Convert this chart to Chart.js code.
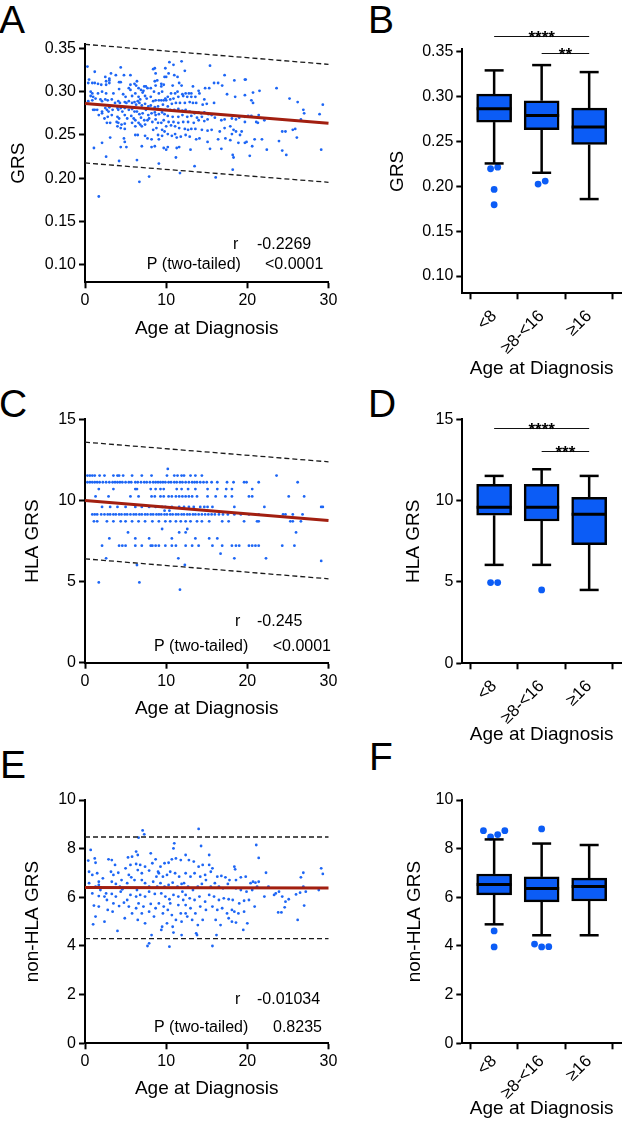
<!DOCTYPE html>
<html>
<head>
<meta charset="utf-8">
<title>GRS by age at diagnosis</title>
<script src="https://cdn.jsdelivr.net/npm/chart.js@4.4.1/dist/chart.umd.min.js"></script>
<style>
  body { margin: 0; background: #fff; }
  #page { position: relative; width: 625px; height: 1129px; overflow: hidden; font-family: "Liberation Sans", Arial, sans-serif; }
  canvas { position: absolute; }
  .tag { position: absolute; font-size: 39px; line-height: 39px; color: #000; }
</style>
</head>
<body>
<div id="page">
  <div class="tag" style="left:-1px;top:0px">A</div>
  <div class="tag" style="left:368px;top:0px">B</div>
  <div class="tag" style="left:-1px;top:384px">C</div>
  <div class="tag" style="left:368px;top:384px">D</div>
  <div class="tag" style="left:0px;top:745px">E</div>
  <div class="tag" style="left:369px;top:737px">F</div>
  <canvas id="chartA"></canvas>
  <canvas id="chartB"></canvas>
  <canvas id="chartC"></canvas>
  <canvas id="chartD"></canvas>
  <canvas id="chartE"></canvas>
  <canvas id="chartF"></canvas>
</div>
<script>
// ---------- shared axis values ----------
const ageTicks = [0, 10, 20, 30];
const grsTicks = [0.10, 0.15, 0.20, 0.25, 0.30, 0.35];
const hlaTicks = [0, 5, 10, 15];
const nonHlaTicks = [0, 2, 4, 6, 8, 10];
const groups = ['<8', '≥8-<16', '≥16'];

// ---------- A: GRS vs age (age, GRS) ----------
const grsPoints = [
  [0.3,0.329],[1.2,0.323],[4.4,0.328],[8.4,0.326],[8.6,0.327],[8.7,0.321],[9.8,0.317],[9.7,0.308],
  [2.5,0.317],[3.0,0.315],[3.2,0.321],[3.8,0.319],[4.8,0.319],[5.6,0.319],[6.4,0.312],[6.1,0.309],
  [6.3,0.307],[4.2,0.311],[4.4,0.311],[5.6,0.308],[5.4,0.304],[5.6,0.302],[0.5,0.314],[0.4,0.310],
  [0.9,0.310],[1.2,0.310],[1.6,0.309],[2.0,0.308],[2.6,0.312],[2.6,0.308],[3.0,0.313],[3.0,0.310],
  [4.2,0.303],[8.6,0.312],[8.9,0.313],[8.7,0.307],[9.4,0.309],[9.4,0.306],[7.3,0.306],[7.5,0.306],
  [7.7,0.304],[6.6,0.304],[6.9,0.302],[7.2,0.301],[8.1,0.304],[8.5,0.300],[9.1,0.298],[9.5,0.300],
  [0.7,0.300],[0.9,0.298],[1.0,0.294],[0.7,0.295],[1.6,0.298],[2.1,0.300],[2.6,0.298],[3.5,0.298],
  [4.7,0.297],[5.0,0.294],[5.8,0.295],[6.2,0.298],[7.1,0.299],[7.4,0.295],[7.6,0.292],[6.6,0.294],
  [6.8,0.291],[8.1,0.294],[8.4,0.289],[8.7,0.290],[9.1,0.290],[9.4,0.290],[9.7,0.290],[9.9,0.292],
  [0.4,0.289],[0.9,0.290],[1.3,0.292],[1.9,0.291],[2.1,0.289],[2.5,0.291],[2.8,0.290],[3.3,0.291],
  [3.7,0.287],[4.1,0.289],[4.3,0.287],[4.9,0.288],[5.1,0.287],[5.4,0.289],[5.8,0.287],[6.1,0.288],
  [6.3,0.285],[6.5,0.289],[6.7,0.287],[7.0,0.284],[7.4,0.286],[7.8,0.283],[8.1,0.284],[8.6,0.282],
  [9.0,0.283],[9.3,0.279],[9.6,0.285],[1.2,0.279],[1.0,0.279],[1.5,0.279],[2.1,0.277],[2.1,0.275],
  [2.5,0.281],[2.7,0.279],[2.9,0.277],[3.0,0.282],[3.4,0.279],[4.0,0.281],[4.1,0.279],[4.4,0.281],
  [4.6,0.277],[4.9,0.281],[5.4,0.279],[5.8,0.280],[6.1,0.277],[6.4,0.277],[6.7,0.274],[7.1,0.275],
  [7.5,0.279],[7.8,0.273],[8.2,0.275],[8.6,0.276],[8.7,0.273],[9.1,0.274],[9.5,0.276],[9.8,0.274],
  [1.7,0.273],[2.4,0.269],[2.8,0.271],[3.3,0.273],[4.0,0.271],[4.2,0.269],[4.9,0.273],[5.2,0.269],
  [5.7,0.272],[6.0,0.269],[6.2,0.267],[6.9,0.270],[7.3,0.267],[7.7,0.267],[7.9,0.269],[8.3,0.265],
  [8.7,0.268],[9.0,0.264],[9.4,0.264],[9.7,0.267],[2.7,0.264],[3.1,0.264],[3.9,0.265],[4.1,0.264],
  [4.5,0.262],[4.9,0.263],[5.8,0.264],[6.6,0.264],[6.8,0.262],[7.4,0.262],[4.0,0.260],[4.4,0.258],
  [4.9,0.257],[6.2,0.260],[7.0,0.260],[8.4,0.256],[8.8,0.258],[9.5,0.256],[9.8,0.254],[6.2,0.250],
  [6.5,0.250],[7.4,0.249],[7.7,0.246],[8.2,0.245],[9.0,0.250],[9.1,0.245],[9.5,0.249],[4.8,0.246],
  [4.9,0.242],[3.1,0.247],[2.1,0.241],[1.1,0.235],[4.4,0.236],[5.1,0.236],[7.0,0.237],[8.2,0.236],
  [8.6,0.237],[9.7,0.235],[10.0,0.233],[2.6,0.225],[4.2,0.220],[6.4,0.221],[9.1,0.217],[7.9,0.202],
  [6.7,0.196],[1.7,0.179],
  [10.4,0.334],[10.9,0.331],[11.9,0.335],[15.4,0.330],[9.9,0.327],[10.3,0.321],[11.0,0.319],[11.4,0.317],
  [12.3,0.324],[11.6,0.310],[11.9,0.307],[10.8,0.307],[10.0,0.317],[17.2,0.319],[18.4,0.313],[19.7,0.314],
  [16.9,0.307],[15.9,0.310],[16.4,0.310],[15.3,0.304],[14.8,0.304],[14.0,0.301],[13.3,0.306],[12.8,0.298],
  [13.1,0.298],[12.4,0.298],[12.0,0.297],[11.4,0.300],[11.1,0.298],[10.6,0.298],[10.2,0.294],[10.0,0.290],
  [10.5,0.291],[10.9,0.292],[11.5,0.294],[12.1,0.295],[12.6,0.294],[13.1,0.294],[13.6,0.294],[14.1,0.298],
  [17.5,0.297],[18.5,0.294],[19.7,0.296],[15.9,0.287],[14.7,0.291],[15.0,0.286],[14.5,0.285],[13.7,0.287],
  [13.3,0.287],[12.9,0.288],[12.3,0.287],[11.7,0.287],[11.2,0.287],[10.7,0.286],[10.2,0.283],[9.9,0.279],
  [10.5,0.279],[11.0,0.279],[11.5,0.280],[12.0,0.278],[12.4,0.279],[12.9,0.277],[13.5,0.275],[14.0,0.276],
  [14.3,0.275],[14.7,0.276],[15.2,0.274],[15.6,0.273],[16.0,0.270],[16.8,0.267],[17.2,0.268],[18.1,0.269],
  [18.6,0.268],[19.0,0.270],[19.7,0.271],[10.2,0.272],[10.8,0.271],[11.5,0.271],[12.0,0.273],[12.6,0.271],
  [13.1,0.272],[13.8,0.270],[14.4,0.271],[15.1,0.268],[14.7,0.266],[14.0,0.267],[13.4,0.264],[12.7,0.265],
  [12.1,0.265],[11.5,0.264],[10.9,0.265],[10.3,0.265],[10.0,0.260],[10.6,0.261],[11.1,0.260],[11.6,0.258],
  [12.3,0.257],[12.7,0.256],[13.1,0.257],[13.6,0.257],[14.4,0.256],[15.1,0.255],[15.6,0.256],[16.6,0.254],
  [17.2,0.258],[17.9,0.260],[18.3,0.256],[18.1,0.251],[18.6,0.254],[19.3,0.254],[10.2,0.251],[10.7,0.249],
  [11.1,0.251],[11.3,0.247],[11.8,0.248],[12.4,0.250],[12.9,0.248],[13.7,0.245],[14.1,0.246],[15.1,0.242],
  [16.4,0.245],[17.3,0.246],[17.9,0.244],[19.1,0.250],[19.7,0.241],[10.2,0.236],[11.3,0.235],[11.6,0.236],
  [13.0,0.233],[15.4,0.234],[16.8,0.234],[18.2,0.227],[18.3,0.224],[18.9,0.241],[11.2,0.224],[13.5,0.214],
  [11.7,0.206],[18.2,0.210],[16.1,0.201],
  [19.8,0.314],[20.7,0.299],[21.5,0.301],[23.6,0.304],[20.5,0.290],[20.7,0.287],[25.2,0.292],[26.2,0.288],
  [26.9,0.279],[27.0,0.275],[29.3,0.285],[28.9,0.274],[20.1,0.272],[20.5,0.272],[21.4,0.273],[21.1,0.265],
  [21.3,0.264],[19.7,0.265],[22.1,0.267],[26.6,0.268],[24.3,0.254],[24.7,0.254],[25.6,0.256],[25.9,0.257],
  [26.1,0.247],[19.9,0.242],[20.9,0.245],[21.8,0.245],[23.9,0.243],[20.6,0.237],[22.4,0.233],[24.3,0.232],
  [29.1,0.233],[24.8,0.227],[20.3,0.226]
];
const grsFit = [0.2862, 0.2635];        // regression at age 0 and 30
const grsBandHigh = [0.3546, 0.3315];   // 95% prediction band
const grsBandLow = [0.2177, 0.1954];
const grsStats = ['-0.2269', '<0.0001'];

// ---------- B: GRS box plots ----------
const grsLow = [0.2255, 0.2151, 0.1858];
const grsQ1 = [0.2716, 0.2631, 0.2467];
const grsMedian = [0.2865, 0.2790, 0.2660];
const grsQ3 = [0.3028, 0.2954, 0.2872];
const grsHigh = [0.3292, 0.3351, 0.3273];
const grsOutliers = [[0.2196, 0.2214, 0.1966, 0.1795], [0.2025, 0.2059], []];
const grsSig = [['****', 0, 2, 0.3678], ['**', 1, 2, 0.3482]];

// ---------- C: HLA GRS vs age (discrete score levels) ----------
const hlaLevels = [11.94, 11.53, 11.12, 10.70, 10.25, 9.60, 9.37, 9.14, 8.71, 8.24, 8.03, 7.66, 7.21, 6.72, 6.43, 6.27, 6.02, 4.95, 4.50];
const hlaAgesByLevel = [
  [10.2],
  [0.3,0.6,0.9,1.2,1.8,2.4,3.5,4.0,4.2,4.7,5.8,7.0,8.2,10.1,11.0,11.4,11.9,12.2,13.0,13.6,14.4,23.6],
  [0.3,0.6,0.9,1.2,1.5,1.8,2.2,2.6,3.0,3.4,3.7,4.0,4.3,4.6,5.0,5.4,5.7,6.2,6.5,6.9,7.3,7.6,8.0,8.4,8.7,
   9.0,9.3,9.6,9.9,10.3,10.6,11.0,11.3,11.7,12.0,12.4,12.8,13.2,13.5,13.8,14.2,14.6,15.0,15.6,16.3,17.5,
   18.3,19.6,19.9,21.4,26.2],
  [1.7,3.5,6.2,6.4,8.1,8.7,9.3,9.7,11.3,11.9,12.7,13.6,15.1,16.3,17.4,18.1,20.6],
  [1.3,2.9,5.6,6.6,8.2,8.6,9.3,9.7,10.3,10.7,11.2,11.6,12.0,12.4,12.8,13.2,13.8,15.1,16.1,17.3,18.1,20.2,
   20.6,25.1,27.0],
  [2.1,3.1,4.0,5.0,6.2,7.0,7.9,8.7,9.5,9.9,10.7,11.6,12.2,12.8,13.4,14.2,14.7,15.1,15.7,18.4,22.1,29.1,29.3],
  [9.8,10.4],
  [0.9,1.2,1.5,2.0,2.4,2.8,3.1,3.5,3.8,4.2,4.5,4.9,5.2,5.6,6.0,6.3,6.7,7.0,7.4,7.7,8.1,8.4,8.8,9.1,9.4,
   9.8,10.1,10.5,10.8,11.2,11.5,11.9,12.2,12.6,12.9,13.3,13.6,14.0,14.4,14.8,15.2,15.6,16.0,16.5,17.0,
   17.6,18.4,19.2,20.2,21.4,24.4,24.7,25.6,26.8],
  [1.1,1.5,2.7,3.5,4.4,5.0,5.8,6.6,7.4,8.3,9.1,9.9,10.5,11.2,11.8,12.4,13.0,13.8,14.4,15.3,16.9,17.7,19.6,
   21.2,21.4,25.3,25.6,26.6],
  [9.5,12.6],
  [5.3,11.6,12.4,26.0],
  [3.0,6.2,7.9,10.7,13.6,15.3,16.3],
  [2.1,4.2,4.6,5.0,6.2,7.0,8.1,8.3,8.7,9.1,9.9,10.7,11.2,12.4,13.2,14.0,15.7,16.9,18.1,18.6,19.0,20.2,20.6,
   21.0,21.4,24.3,25.8],
  [16.7],
  [2.6,11.5,18.4,22.3],
  [29.1],
  [6.4,12.3],
  [1.7,6.7],
  [11.7]
];
const hlaFit = [10.0, 8.77];
const hlaBandHigh = [13.59, 12.38];
const hlaBandLow = [6.40, 5.17];
const hlaStats = ['-0.245', '<0.0001'];

// ---------- D: HLA GRS box plots ----------
const hlaLow = [6.05, 6.05, 4.51];
const hlaQ1 = [9.10, 8.75, 7.30];
const hlaMedian = [9.59, 9.59, 9.16];
const hlaQ3 = [11.0, 11.0, 10.2];
const hlaHigh = [11.52, 11.93, 11.52];
const hlaOutliers = [[4.96, 4.96], [4.51], []];
const hlaSig = [['****', 0, 2, 14.48], ['***', 1, 2, 13.07]];

// ---------- E: non-HLA GRS vs age ----------
const nonHlaPoints = [
  [7.1,8.75],[7.3,8.59],[6.6,8.45],[14.0,8.81],[11.0,8.22],[10.9,8.01],[14.3,8.11],[0.7,7.95],[21.1,8.15],[21.4,7.62],
  [0.4,7.51],[1.2,7.60],[1.3,7.42],[0.5,7.05],[0.9,6.92],[1.5,6.99],[1.7,6.64],[0.5,6.58],[1.3,6.44],[1.9,6.30],
  [0.9,6.16],[1.7,6.05],[2.4,6.03],[1.1,5.66],[1.7,5.62],[1.3,5.21],[2.4,5.00],[1.0,4.89],[1.7,6.51],[2.2,6.78],
  [2.6,6.16],[2.7,5.89],[2.8,5.48],
  [2.9,7.56],[3.3,7.53],[3.7,7.33],[3.2,7.05],[3.5,6.92],[4.1,7.01],[3.3,6.64],[3.8,6.55],[4.3,6.44],[3.3,6.14],
  [3.8,6.03],[4.4,6.23],[3.5,5.75],[4.2,5.64],[4.8,5.78],[3.4,5.41],[4.9,5.14],[4.0,4.62],[4.6,6.33],[5.2,6.58],
  [5.4,6.92],[5.0,7.19],[5.6,7.33],[5.8,7.67],[5.3,7.64],[5.7,6.82],[5.6,6.10],[5.4,5.62],[5.8,5.34],[5.2,5.89],
  [4.5,6.71],
  [6.3,7.37],[6.8,7.33],[6.5,7.12],[7.0,6.99],[7.4,7.26],[7.9,7.10],[8.3,7.40],[8.7,7.56],[8.1,7.81],[6.3,7.88],
  [6.5,7.74],[7.0,6.71],[7.4,6.58],[7.9,6.44],[8.4,6.64],[8.8,6.85],[6.4,6.30],[6.8,6.10],[7.4,6.03],[7.9,6.23],
  [8.6,6.14],[6.6,5.75],[7.2,5.62],[8.1,5.73],[8.7,5.55],[7.0,5.34],[7.9,5.41],[8.5,5.21],[7.4,4.93],[6.3,5.55],
  [6.5,5.07],[8.2,4.45],[7.7,4.00],[7.9,4.11],[6.3,6.03],[6.1,6.71],[8.9,6.44],[9.0,7.05],
  [9.3,7.26],[9.8,7.40],[10.3,7.42],[10.7,7.56],[11.2,7.60],[11.8,7.53],[9.1,6.99],[9.6,6.85],[10.1,6.92],[10.5,7.05],
  [11.1,6.99],[11.6,6.85],[9.3,6.58],[9.8,6.44],[10.3,6.51],[10.8,6.60],[11.4,6.44],[11.9,6.55],[9.4,6.16],[9.9,6.03],
  [10.4,5.92],[10.9,6.10],[11.5,6.03],[12.0,6.23],[9.5,4.79],[9.4,4.66],[9.7,5.62],[10.2,5.48],[10.7,5.27],[11.2,5.07],
  [11.8,5.34],[10.1,4.93],[10.8,4.79],[11.9,5.00],[10.9,4.55],[11.9,4.45],[10.4,3.97],[9.1,5.75],[9.6,5.34],[11.5,5.68],
  [10.5,5.75],
  [12.4,7.74],[12.8,7.53],[13.4,7.47],[14.0,7.26],[14.5,7.33],[12.4,6.99],[13.0,6.85],[13.5,6.99],[14.2,6.85],[14.8,6.92],
  [12.2,6.58],[12.7,6.44],[13.3,6.30],[13.9,6.44],[14.4,6.55],[14.9,6.71],[12.4,6.10],[12.9,5.96],[13.5,5.89],[14.1,6.03],
  [14.8,5.82],[12.4,5.68],[13.0,5.55],[13.6,5.34],[14.2,5.62],[14.9,5.48],[12.6,5.21],[13.2,5.07],[13.9,4.86],[14.5,5.07],
  [13.7,4.52],[13.8,4.45],[12.4,5.34],[12.1,5.89],
  [15.3,7.33],[15.7,7.19],[16.3,6.85],[16.8,6.88],[17.3,6.82],[17.8,6.71],[15.5,6.44],[16.0,6.58],[16.5,6.44],[17.0,6.37],
  [17.6,6.55],[15.3,6.10],[15.9,6.03],[16.5,5.89],[17.1,5.96],[17.7,5.92],[15.7,5.62],[16.3,5.48],[16.9,5.55],[17.5,5.34],
  [18.1,5.48],[16.1,5.07],[16.7,4.86],[17.7,5.14],[15.7,4.00],[16.2,4.45],[15.5,7.05],[15.3,7.74],
  [18.4,7.26],[18.5,7.15],[18.6,6.71],[19.2,6.82],[19.8,6.85],[20.4,6.58],[20.7,6.64],[21.0,6.60],[21.4,6.64],[18.6,6.37],
  [19.2,6.30],[19.9,6.23],[20.6,6.30],[21.2,6.44],[18.2,5.89],[19.0,5.75],[19.6,5.86],[20.2,5.89],[20.9,5.62],[18.4,5.41],
  [18.9,5.34],[19.6,5.41],[18.1,5.00],[18.6,4.96],[20.0,4.93],[19.5,4.66],
  [22.1,6.03],[22.6,6.44],[23.3,6.10],[23.9,6.23],[24.3,6.03],[24.7,5.82],[25.1,5.92],[26.0,6.12],[26.5,6.19],[26.9,6.44],
  [27.2,6.23],[22.3,7.01],[24.2,5.38],[24.6,5.59],[23.8,5.38],[26.2,5.07],[27.0,5.66],[26.6,6.82],[26.9,7.01],[29.1,7.19],
  [29.3,6.96],[28.8,6.30],[23.5,6.16]
];
const nonHlaFit = [6.40, 6.38];
const nonHlaBandHigh = [8.48, 8.48];
const nonHlaBandLow = [4.30, 4.30];
const nonHlaStats = ['-0.01034', '0.8235'];

// ---------- F: non-HLA GRS box plots ----------
const nonHlaLow = [4.89, 4.44, 4.44];
const nonHlaQ1 = [6.10, 5.81, 5.85];
const nonHlaMedian = [6.53, 6.36, 6.44];
const nonHlaQ3 = [6.96, 6.84, 6.79];
const nonHlaHigh = [8.38, 8.21, 8.15];
const nonHlaOutliers = [[8.74, 8.48, 8.58, 8.74, 4.62, 3.96], [8.81, 4.08, 3.96, 3.97], []];

// ---------- styling ----------
Chart.defaults.font.family = '"Liberation Sans", Arial, sans-serif';
Chart.defaults.color = '#000';

const DOT_BLUE = '#1d66f5';
const BOX_BLUE = '#0b5cf6';
const FIT_RED = '#a21f10';
const TITLE_FONT = { size: 19, lineHeight: 1.2 };
const TICK_FONT = { size: 16 };
const GROUP_FONT = { size: 17 };
const HALF_TITLE = 19 * 1.2 / 2;

function placeCanvas(id, f) {
  const c = document.getElementById(id);
  c.width = f.w;
  c.height = f.h;
  c.style.left = f.x + 'px';
  c.style.top = f.y + 'px';
  c.style.width = f.w + 'px';
  c.style.height = f.h + 'px';
  return c;
}

const axisGrid = { drawOnChartArea: false, tickLength: 6, tickWidth: 2, tickColor: '#000' };
const axisBorder = { width: 2, color: '#000' };

function valueAxis(f, min, max, ticks, title, digits) {
  return {
    type: 'linear', position: 'left', min: min, max: max,
    afterBuildTicks: s => { s.ticks = ticks.map(v => ({ value: v })); },
    afterFit: s => { s.width = f.plot.l - f.x; },
    ticks: { font: TICK_FONT, color: '#000', padding: 3, autoSkip: false, callback: v => v.toFixed(digits) },
    grid: axisGrid,
    border: axisBorder,
    title: { display: true, text: title, font: TITLE_FONT, color: '#000',
             padding: { top: f.yTitle - f.x - HALF_TITLE, bottom: 0 } }
  };
}

function bottomAxis(f, extra) {
  return Object.assign({
    type: 'linear', position: 'bottom',
    afterFit: s => { s.height = f.y + f.h - f.plot.b; },
    grid: axisGrid,
    border: axisBorder,
    title: { display: true, text: 'Age at Diagnosis', font: TITLE_FONT, color: '#000',
             padding: { top: 0, bottom: f.y + f.h - f.xTitle - HALF_TITLE } }
  }, extra);
}

function layoutFor(f) {
  return { padding: { left: 0, top: f.plot.t - f.y, right: f.x + f.w - f.plot.r, bottom: 0 } };
}

// r and P value text inside the scatter panels
const statsPlugin = {
  id: 'corrStats',
  afterDraw(chart, args, o) {
    const { ctx, chartArea: a } = chart;
    ctx.save();
    ctx.font = '16px "Liberation Sans", Arial, sans-serif';
    ctx.fillStyle = '#000';
    ctx.textBaseline = 'middle';
    ctx.textAlign = 'left';
    ctx.fillText('r', a.left + o.rX, a.bottom + o.rY);
    ctx.fillText(o.values[0], a.left + o.rValX, a.bottom + o.rY);
    ctx.fillText('P (two-tailed)', a.left + o.pX, a.bottom + o.pY);
    ctx.fillText(o.values[1], a.left + o.pValX, a.bottom + o.pY);
    ctx.restore();
  }
};

// whiskers, caps and medians of the box plots
const whiskerPlugin = {
  id: 'whiskers',
  afterDatasetsDraw(chart, args, o) {
    const { ctx, scales: { x, y } } = chart;
    ctx.save();
    ctx.strokeStyle = '#000';
    ctx.lineWidth = 2.5;
    ctx.lineCap = 'butt';
    const seg = (x1, y1, x2, y2) => { ctx.beginPath(); ctx.moveTo(x1, y1); ctx.lineTo(x2, y2); ctx.stroke(); };
    o.low.forEach((lo, i) => {
      const px = x.getPixelForValue(i);
      const yLo = y.getPixelForValue(lo), yHi = y.getPixelForValue(o.high[i]);
      seg(px, yLo, px, y.getPixelForValue(o.q1[i]));
      seg(px, y.getPixelForValue(o.q3[i]), px, yHi);
      seg(px - 9.5, yLo, px + 9.5, yLo);
      seg(px - 9.5, yHi, px + 9.5, yHi);
      const ym = y.getPixelForValue(o.median[i]);
      ctx.lineWidth = 3;
      seg(px - 17.5, ym, px + 17.5, ym);
      ctx.lineWidth = 2.5;
    });
    ctx.restore();
  }
};

// significance brackets above the boxes
const sigPlugin = {
  id: 'sigBars',
  afterDraw(chart, args, o) {
    if (!o.bars) return;
    const { ctx, scales: { x, y } } = chart;
    ctx.save();
    o.bars.forEach(([label, from, to, level]) => {
      const x1 = x.getPixelForValue(from), x2 = x.getPixelForValue(to);
      const py = Math.round(y.getPixelForValue(level)) + 0.5;
      ctx.strokeStyle = '#111';
      ctx.lineWidth = 1;
      ctx.beginPath(); ctx.moveTo(x1, py); ctx.lineTo(x2, py); ctx.stroke();
      ctx.font = 'bold 17px "Liberation Sans", Arial, sans-serif';
      ctx.fillStyle = '#000';
      ctx.textAlign = 'center';
      ctx.textBaseline = 'alphabetic';
      ctx.fillText(label, (x1 + x2) / 2, py + 6);
    });
    ctx.restore();
  }
};

function lineSet(vals, color, width, dash) {
  return {
    type: 'scatter', showLine: true, data: [{ x: 0, y: vals[0] }, { x: 30, y: vals[1] }],
    borderColor: color, borderWidth: width, borderDash: dash, pointRadius: 0, clip: false
  };
}

function scatterPanel(id, f, pts, fit, hi, lo, yMin, yMax, yTicks, yTitle, digits, stats, statPos) {
  placeCanvas(id, f);
  new Chart(document.getElementById(id), {
    type: 'scatter',
    data: {
      datasets: [
        lineSet(fit, FIT_RED, 3, []),
        lineSet(hi, '#1a1a1a', 1.3, [5, 3]),
        lineSet(lo, '#1a1a1a', 1.3, [5, 3]),
        { data: pts.map(p => ({ x: p[0], y: p[1] })), pointRadius: 1.4, pointBackgroundColor: DOT_BLUE,
          pointBorderWidth: 0, showLine: false }
      ]
    },
    options: {
      responsive: false, animation: false, devicePixelRatio: 1,
      layout: layoutFor(f),
      scales: {
        x: bottomAxis(f, {
          min: 0, max: 30,
          afterBuildTicks: s => { s.ticks = ageTicks.map(v => ({ value: v })); },
          ticks: { font: TICK_FONT, color: '#000', padding: 3, maxRotation: 0, autoSkip: false }
        }),
        y: valueAxis(f, yMin, yMax, yTicks, yTitle, digits)
      },
      plugins: {
        legend: { display: false }, tooltip: { enabled: false },
        corrStats: Object.assign({ values: stats }, statPos)
      }
    },
    plugins: [statsPlugin]
  });
}

function spreadOutliers(lists, range) {
  const out = [];
  lists.forEach((vals, g) => {
    let cluster = [];
    const flush = () => {
      cluster.forEach((v, k) => out.push({ x: g + (k - (cluster.length - 1) / 2) * 0.15, y: v }));
      cluster = [];
    };
    vals.forEach(v => {
      if (cluster.length && Math.abs(v - cluster[cluster.length - 1]) > range * 0.03) flush();
      cluster.push(v);
    });
    flush();
  });
  return out;
}

function boxPanel(id, f, low, q1, med, q3, high, outliers, sig, yMin, yMax, yTicks, yTitle, digits) {
  placeCanvas(id, f);
  new Chart(document.getElementById(id), {
    type: 'scatter',
    data: {
      datasets: [
        { type: 'scatter', data: spreadOutliers(outliers, yMax - yMin), pointRadius: 3.4,
          pointBackgroundColor: BOX_BLUE, pointBorderWidth: 0 },
        { type: 'bar', data: groups.map((g, i) => ({ x: i, y: [q1[i], q3[i]] })),
          backgroundColor: BOX_BLUE, borderColor: '#000', borderWidth: 2.5, borderSkipped: false,
          barThickness: 35 }
      ]
    },
    options: {
      responsive: false, animation: false, devicePixelRatio: 1,
      layout: layoutFor(f),
      scales: {
        x: bottomAxis(f, {
          min: -0.67, max: 2.67, offset: false,
          afterBuildTicks: s => { s.ticks = groups.map((g, i) => ({ value: i })); },
          ticks: { font: GROUP_FONT, color: '#000', padding: f.labelPad, autoSkip: false, minRotation: 45, maxRotation: 45,
                   callback: v => groups[v] }
        }),
        y: valueAxis(f, yMin, yMax, yTicks, yTitle, digits)
      },
      plugins: {
        legend: { display: false }, tooltip: { enabled: false },
        whiskers: { low: low, q1: q1, median: med, q3: q3, high: high },
        sigBars: { bars: sig }
      }
    },
    plugins: [whiskerPlugin, sigPlugin]
  });
}

// ---------- panel frames (canvas box and plot area, page pixels) ----------
const frameA = { x: 0, y: 0, w: 345, h: 345, plot: { l: 85, r: 328.5, t: 44, b: 282.3 }, yTitle: 18.3, xTitle: 328.7 };
const frameB = { x: 375, y: 0, w: 250, h: 382, plot: { l: 462.3, r: 625, t: 49.3, b: 293.3 }, yTitle: 397.5, xTitle: 368.7, labelPad: 7 };
const frameC = { x: 0, y: 380, w: 345, h: 345, plot: { l: 85, r: 328.5, t: 419.3, b: 662.7 }, yTitle: 32.5, xTitle: 708.7 };
const frameD = { x: 375, y: 380, w: 250, h: 372, plot: { l: 462.3, r: 625, t: 419.3, b: 663.3 }, yTitle: 414, xTitle: 734.4, labelPad: 7 };
const frameE = { x: 0, y: 760, w: 345, h: 345, plot: { l: 85, r: 328.5, t: 800, b: 1043.3 }, yTitle: 33, xTitle: 1088.7 };
const frameF = { x: 375, y: 760, w: 250, h: 369, plot: { l: 462.3, r: 625, t: 800, b: 1043.3 }, yTitle: 415, xTitle: 1108.7, labelPad: 2 };

const hlaPoints = [];
hlaLevels.forEach((lvl, i) => hlaAgesByLevel[i].forEach(a => hlaPoints.push([a, lvl])));

scatterPanel('chartA', frameA, grsPoints, grsFit, grsBandHigh, grsBandLow, 0.08, 0.355, grsTicks, 'GRS', 2, grsStats,
  { rX: 148, rValX: 172, rY: -37.3, pX: 61.7, pValX: 180, pY: -17.3 });
boxPanel('chartB', frameB, grsLow, grsQ1, grsMedian, grsQ3, grsHigh, grsOutliers, grsSig, 0.0808, 0.3527, grsTicks, 'GRS', 2);

scatterPanel('chartC', frameC, hlaPoints, hlaFit, hlaBandHigh, hlaBandLow, 0, 15, hlaTicks, 'HLA GRS', 0, hlaStats,
  { rX: 150, rValX: 172, rY: -41, pX: 69, pValX: 187.7, pY: -16 });
boxPanel('chartD', frameD, hlaLow, hlaQ1, hlaMedian, hlaQ3, hlaHigh, hlaOutliers, hlaSig, 0, 15, hlaTicks, 'HLA GRS', 0);

scatterPanel('chartE', frameE, nonHlaPoints, nonHlaFit, nonHlaBandHigh, nonHlaBandLow, 0, 10, nonHlaTicks, 'non-HLA GRS', 0, nonHlaStats,
  { rX: 150, rValX: 172, rY: -43.3, pX: 69, pValX: 188, pY: -16 });
boxPanel('chartF', frameF, nonHlaLow, nonHlaQ1, nonHlaMedian, nonHlaQ3, nonHlaHigh, nonHlaOutliers, null, 0, 10, nonHlaTicks, 'non-HLA GRS', 0);
</script>
</body>
</html>
